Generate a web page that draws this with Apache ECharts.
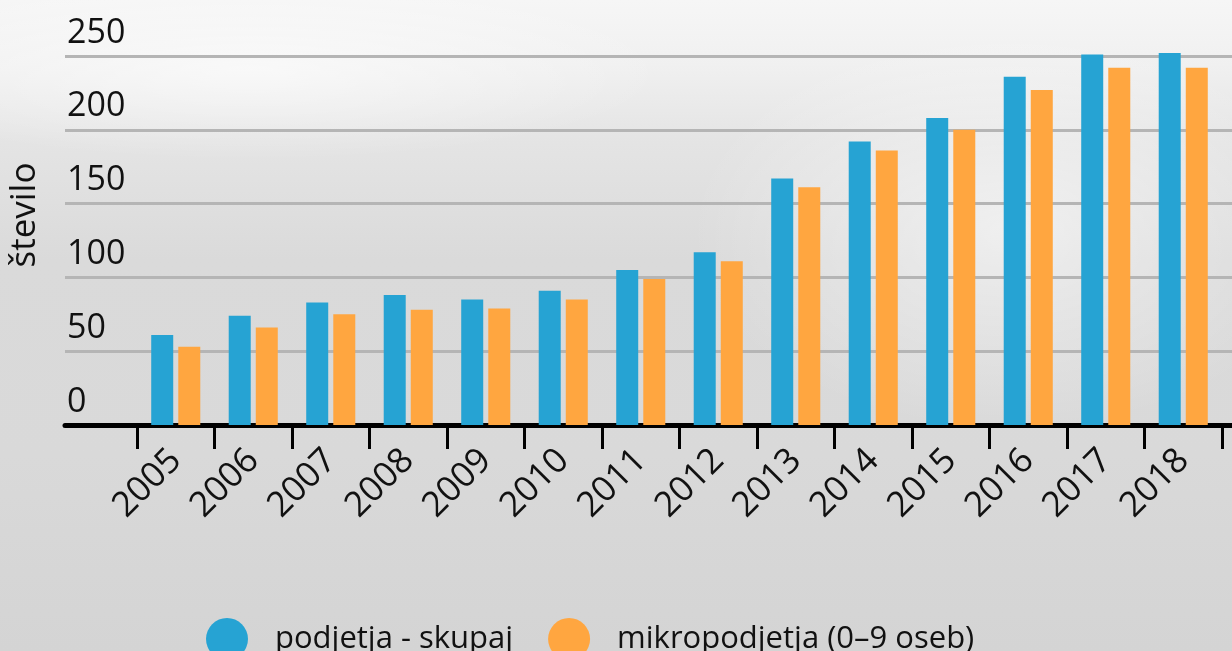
<!DOCTYPE html>
<html>
<head>
<meta charset="utf-8">
<script src="https://cdn.jsdelivr.net/npm/echarts@6/dist/echarts.min.js"></script>
<style>
html,body{margin:0;padding:0;width:1232px;height:651px;overflow:hidden;}
body{
  background:
    radial-gradient(ellipse 320px 200px at 1010px 230px, rgba(255,255,255,0.55), rgba(255,255,255,0) 100%),
    radial-gradient(ellipse 420px 90px at 250px 70px, rgba(255,255,255,0.6), rgba(255,255,255,0) 100%),
    linear-gradient(to bottom, #f6f6f6 0%, #f0f0f0 10%, #e4e4e4 22%, #dadada 40%, #d9d9d9 70%, #d4d4d4 100%);
}
#chart{width:1232px;height:651px;}
</style>
</head>
<body>
<div id="chart"></div>
<script>
const years = ['2005','2006','2007','2008','2009','2010','2011','2012','2013','2014','2015','2016','2017','2018'];
const podjetjaSkupaj = [61, 74, 83, 88, 85, 91, 105, 117, 167, 192, 208, 236, 251, 252];
const mikropodjetja = [53, 66, 75, 78, 79, 85, 99, 111, 161, 186, 200, 227, 242, 242];
const yTicks = [0, 50, 100, 150, 200, 250];
const seriesNames = ['podjetja - skupaj', 'mikropodjetja (0–9 oseb)'];
const yTitle = 'število';

const FONT = '"Open Sans", "Noto Sans", sans-serif';
const chart = echarts.init(document.getElementById('chart'), null, {renderer: 'canvas'});

chart.setOption({
  animation: false,
  backgroundColor: 'transparent',
  textStyle: {fontFamily: FONT},
  grid: [
    {left: 65, right: 0, top: 56, bottom: 226},
    {left: 137, right: 10, top: 56, bottom: 226}
  ],
  xAxis: [
    {
      gridIndex: 0, type: 'value', min: 0, max: 1,
      axisLine: {show: true, onZero: true, lineStyle: {color: '#000', width: 5}},
      axisTick: {show: false}, axisLabel: {show: false}, splitLine: {show: false}
    },
    {
      gridIndex: 1, type: 'category', data: years,
      axisLine: {show: false},
      axisTick: {show: true, length: 24, lineStyle: {color: '#000', width: 3}},
      axisLabel: {
        rotate: 45, margin: 30, fontSize: 35, color: '#111', fontFamily: FONT
      },
      splitLine: {show: false}
    }
  ],
  yAxis: [
    {
      gridIndex: 0, type: 'value', min: yTicks[0], max: yTicks[yTicks.length - 1], interval: 50,
      axisLine: {show: false}, axisTick: {show: false},
      splitLine: {show: true, lineStyle: {color: '#b5b5b5', width: 3}},
      axisLabel: {
        inside: true, margin: 2, align: 'left', verticalAlign: 'bottom',
        fontSize: 34, lineHeight: 34, padding: [0, 0, 6, 0],
        color: '#111', fontFamily: FONT
      }
    },
    {
      gridIndex: 1, type: 'value', min: yTicks[0], max: yTicks[yTicks.length - 1], interval: 50,
      show: false, splitLine: {show: false}
    }
  ],
  legend: {
    data: seriesNames,
    left: 201, top: 613,
    icon: 'circle', itemWidth: 42, itemHeight: 42, itemGap: 35,
    textStyle: {fontSize: 31, color: '#111', fontFamily: FONT, padding: [0, 0, 0, 22]}
  },
  graphic: [{
    type: 'text', x: 25, y: 215, rotation: Math.PI / 2,
    style: {text: yTitle, fontSize: 35, fill: '#111', fontFamily: FONT, align: 'center', verticalAlign: 'middle'}
  }],
  series: [
    {
      name: seriesNames[0], type: 'bar', xAxisIndex: 1, yAxisIndex: 1, clip: false,
      data: podjetjaSkupaj, barWidth: 22, barGap: '23%',
      itemStyle: {color: '#26A3D3'}
    },
    {
      name: seriesNames[1], type: 'bar', xAxisIndex: 1, yAxisIndex: 1, clip: false,
      data: mikropodjetja, barWidth: 22, barGap: '23%',
      itemStyle: {color: '#FFA640'}
    }
  ]
});
</script>
</body>
</html>
